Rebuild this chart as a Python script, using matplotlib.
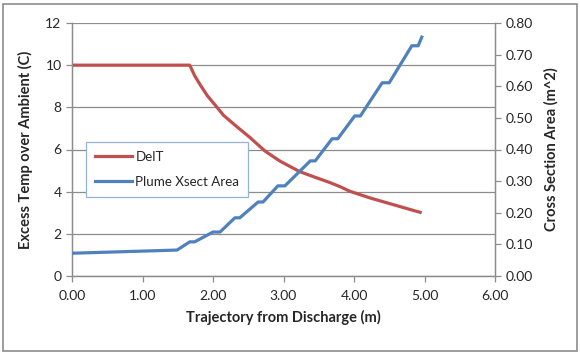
import matplotlib
matplotlib.use("Agg")
import matplotlib.pyplot as plt
from matplotlib.patches import Rectangle
from matplotlib.lines import Line2D

plt.rcParams['font.family'] = ['Lato', 'DejaVu Sans']

# Data
delt_x = [0.00, 1.67, 1.74, 1.82, 1.92, 2.03, 2.15, 2.31, 2.52, 2.67, 2.74, 2.95,
          3.23, 3.45, 3.66, 3.80, 3.94, 4.23, 4.51, 4.79, 4.96]
delt_y = [10.0, 10.0, 9.50, 9.06, 8.55, 8.11, 7.62, 7.16, 6.58, 6.13, 5.92, 5.45,
          4.95, 4.68, 4.43, 4.24, 4.02, 3.70, 3.43, 3.16, 3.00]

area_x = [0.00, 1.49, 1.67, 1.74, 2.00, 2.10, 2.31, 2.38, 2.64, 2.71, 2.92, 3.02,
          3.38, 3.45, 3.69, 3.77, 4.01, 4.09, 4.40, 4.50, 4.82, 4.91, 4.97]
area_y = [0.072, 0.082, 0.108, 0.108, 0.139, 0.139, 0.184, 0.184, 0.234, 0.234,
          0.285, 0.285, 0.364, 0.364, 0.434, 0.434, 0.506, 0.506, 0.611, 0.611,
          0.728, 0.728, 0.760]

x_ticks = [0, 1, 2, 3, 4, 5, 6]
left_ticks = [0, 2, 4, 6, 8, 10, 12]
right_ticks = [0.0, 0.1, 0.2, 0.3, 0.4, 0.5, 0.6, 0.7, 0.8]

RED = '#C0504D'
BLUE = '#4F81BD'
GRID = '#8C8C8C'
TXT = '#262626'

fig = plt.figure(figsize=(5.8, 3.54), dpi=100)
ax = fig.add_axes([72/580, 1-276/354, (495-72)/580, (276-23)/354])
ax2 = ax.twinx()

ax.plot(delt_x, delt_y, color=RED, lw=2.3, solid_capstyle='butt', zorder=3)
ax2.plot(area_x, area_y, color=BLUE, lw=2.3, solid_capstyle='butt', zorder=3)

ax.set_xlim(0, 6)
ax.set_ylim(0, 12)
ax2.set_ylim(0, 0.8)
ax.set_xticks(x_ticks)
ax.set_xticklabels([f"{v:.2f}" for v in x_ticks])
ax.set_yticks(left_ticks)
ax.set_yticklabels([str(v) for v in left_ticks])
ax2.set_yticks(right_ticks)
ax2.set_yticklabels([f"{v:.2f}" for v in right_ticks])

ax.yaxis.grid(True, color=GRID, lw=0.9)
ax.set_axisbelow(True)

for a in (ax, ax2):
    for s in a.spines.values():
        s.set_color(GRID)
        s.set_linewidth(0.9)
    a.spines['top'].set_visible(False)
    a.tick_params(colors=GRID, labelcolor=TXT, labelsize=10, length=4, width=0.9)
ax.tick_params(axis='x', pad=6)

ax.set_xlabel('Trajectory from Discharge (m)', fontsize=10.5, fontweight='bold', color=TXT, labelpad=6)
ax.set_ylabel('Excess Temp over Ambient (C)', fontsize=10.5, fontweight='bold', color=TXT, labelpad=9)
ax2.set_ylabel('Cross Section Area (m^2)', fontsize=10.5, fontweight='bold', color=TXT, labelpad=8)

handles = [Line2D([], [], color=RED, lw=2.3), Line2D([], [], color=BLUE, lw=2.3)]
leg = ax.legend(handles, ['DelT', 'Plume Xsect Area'], loc='upper left',
                bbox_to_anchor=((86-72)/423, (276-142)/253), fontsize=9.6,
                frameon=True, fancybox=False, handlelength=2.8, handletextpad=0.25,
                labelspacing=1.0, borderpad=0.65, borderaxespad=0)
leg.get_frame().set_edgecolor('#95B3D7')
leg.get_frame().set_linewidth(0.9)
leg.get_frame().set_alpha(1)
for t in leg.get_texts():
    t.set_color(TXT)

fig.patches.append(Rectangle((3/580, 3/354), 574/580, 347/354, transform=fig.transFigure,
                             fill=False, edgecolor='#8C8C8C', lw=1.2))

fig.savefig('out.png', dpi=100)
